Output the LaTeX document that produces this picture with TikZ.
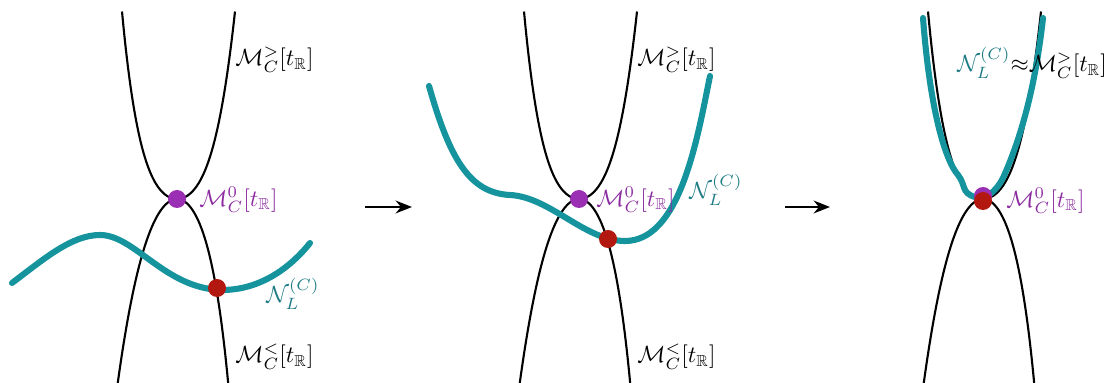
\documentclass[tikz,border=0pt]{standalone}
\usepackage{amsmath,amssymb}
\usepackage{xcolor}
\usepackage{tikz}
\usetikzlibrary{arrows.meta,positioning}
\definecolor{nteal}{HTML}{16949E}
\definecolor{ntext}{HTML}{1F7C85}
\definecolor{mpurple}{HTML}{9B2FB3}
\definecolor{mtext}{HTML}{8B2A9F}
\definecolor{mred}{HTML}{B2180F}

\begin{document}
\begin{tikzpicture}[x=0.015cm,y=-0.015cm,
    every node/.style={font=\fontsize{9.7}{11.5}\selectfont,inner sep=0pt},
    branch/.style={line width=0.9pt},
    nline/.style={nteal,line width=2.6pt,line cap=round},
    pdot/.style={circle,fill=mpurple,minimum size=0.27cm},
    rdot/.style={circle,fill=mred,minimum size=0.27cm}]
  \useasboundingbox (0,0) rectangle (1115,383);
  % the two branches, same shape in every panel
  \foreach \v in {177,579,983} {
    \draw[branch] plot[domain=-56.5:56.5,samples=90,variable=\t]
      ({\v+\t+0.008*(0.03*\t*\t+0.09*(\t*\t/100)^2)}, {199-(0.03*\t*\t+0.09*(\t*\t/100)^2)});
    \draw[branch] plot[domain=-55.2:55.2,samples=90,variable=\t]
      ({\v+\t-0.022*(0.043*\t*\t+0.057*(\t*\t/100)^2)}, {199+(0.043*\t*\t+0.057*(\t*\t/100)^2)});
  }
  \foreach \v in {177,579} {
    \node[anchor=west] at (\v+58,60) {$\mathcal{M}_C^{>}[t_{\mathbb{R}}]$};
    \node[anchor=west] at (\v+58,357) {$\mathcal{M}_C^{<}[t_{\mathbb{R}}]$};
  }
  % N_L curves
  \draw[nline] (12,283) .. controls (45,258) and (72,235) .. (100,235)
    .. controls (135,235) and (165,289) .. (222,290)
    .. controls (260,290) and (290,268) .. (310,243);
  \draw[nline] (429,86) .. controls (450,160) and (470,193) .. (510,195)
    .. controls (550,197) and (585,241) .. (625,241)
    .. controls (680,241) and (697,140) .. (710,76);
  \draw[nline] (923,18) .. controls (930,110) and (945,160) .. (958,175)
    .. controls (966,185) and (961,193) .. (975,197)
    .. controls (985,200) and (995,193) .. (1003,178)
    .. controls (1020,140) and (1035,90) .. (1043,18);
  % points
  \node[pdot] (m1) at (177,199) {};
  \node[rdot] (r1) at (217,288) {};
  \node[pdot] (m2) at (579,199) {};
  \node[rdot] (r2) at (608,239) {};
  \node[pdot] (m3) at (983,196) {};
  \node[rdot] (r3) at (983,201) {};
  % labels
  \node[anchor=west,mtext] (l1) at (199,200) {$\mathcal{M}_C^{0}[t_{\mathbb{R}}]$};
  \node[anchor=west,mtext] (l2) at (596,200) {$\mathcal{M}_C^{0}[t_{\mathbb{R}}]$};
  \node[anchor=west,mtext] (l3) at (1006,201) {$\mathcal{M}_C^{0}[t_{\mathbb{R}}]$};
  \node[anchor=west,ntext] (n1) at (266,294) {$\mathcal{N}_L^{(C)}$};
  \node[anchor=west,ntext] (n2) at (689,190) {$\mathcal{N}_L^{(C)}$};
  \node[anchor=west] (n3) at (957,63) {\textcolor{ntext}{$\mathcal{N}_L^{(C)}$}${\approx}\mathcal{M}_C^{>}[t_{\mathbb{R}}]$};
  % arrows
  \foreach \s/\e [count=\i] in {365/412,785/830} {
    \coordinate (s\i) at (\s,207);
    \coordinate (e\i) at (\e,207);
    \draw[-{Stealth[length=7pt,width=5.5pt]},line width=0.8pt] (s\i) -- (e\i);
  }
\end{tikzpicture}
\end{document}
